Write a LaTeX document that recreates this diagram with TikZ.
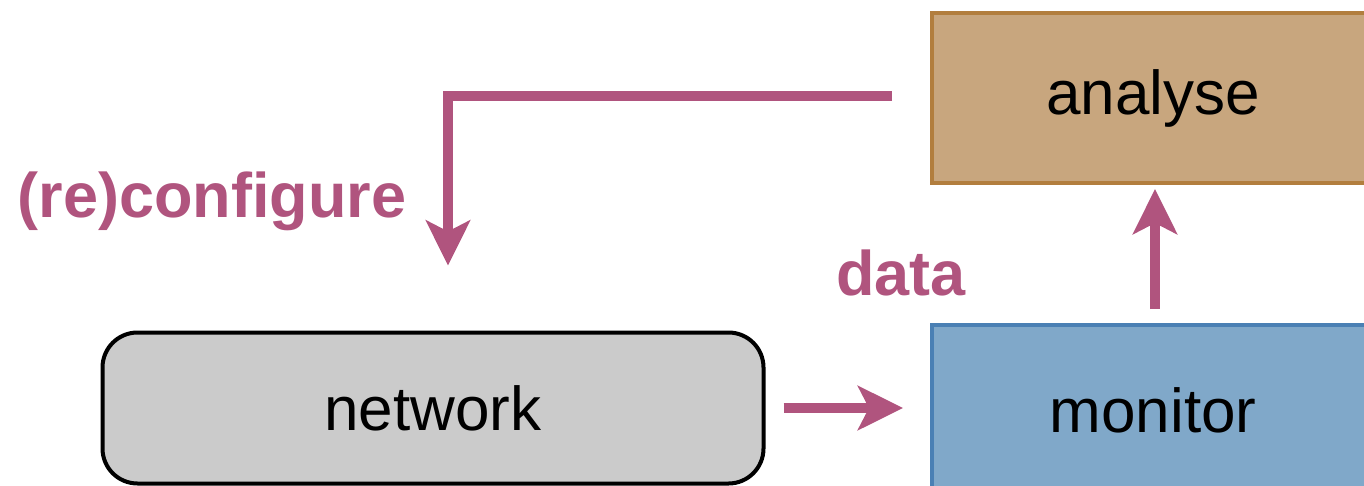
\documentclass[tikz,border=0pt]{standalone}
\usepackage{fontspec}
\setmainfont{Liberation Sans}
\usetikzlibrary{arrows.meta}
\definecolor{flowcol}{RGB}{176,84,126}
\definecolor{anafill}{RGB}{200,166,126}
\definecolor{anadraw}{RGB}{178,126,62}
\definecolor{monfill}{RGB}{128,168,201}
\definecolor{mondraw}{RGB}{74,128,180}
\definecolor{netfill}{RGB}{203,203,203}
\tikzset{
  box/.style={draw, line width=4pt, inner sep=0pt, font=\fontsize{62}{74}\selectfont},
  tag/.style={text=flowcol, inner sep=0pt, font=\fontsize{63}{75}\selectfont\bfseries},
  flow/.style={draw=flowcol, line width=10pt,
    -{Stealth[length=45pt, width=44pt, inset=11pt]}}
}
\begin{document}
\begin{tikzpicture}[x=1pt, y=-1pt]
  \useasboundingbox (0,0) rectangle (1364,485);
  \draw
    (1153,98) node[box, fill=anafill, draw=anadraw, minimum width=442pt, minimum height=170pt] (ana){analyse}
    (1153,410) node[box, fill=monfill, draw=mondraw, minimum width=442pt, minimum height=170pt] (mon){monitor}
    (433,408) node[box, fill=netfill, rounded corners=35pt, minimum width=661pt, minimum height=151pt] (net){network}
    (212,201) node[tag] (cfg){(re)configure}
    (901,273) node[tag] (dat){data};
  \begin{scope}[line cap=butt]
    \draw[flow, shorten <=38pt, shorten >=65pt] ([yshift=2pt]ana.west) -| ([xshift=15pt]net.north);
    \draw[flow, shorten <=18pt, shorten >=27pt] (net.east) -- (mon.west |- net.east);
    \draw[flow, shorten <=14pt, shorten >=4pt] ([xshift=2pt]mon.north) -- ([xshift=2pt]ana.south);
  \end{scope}
\end{tikzpicture}
\end{document}
